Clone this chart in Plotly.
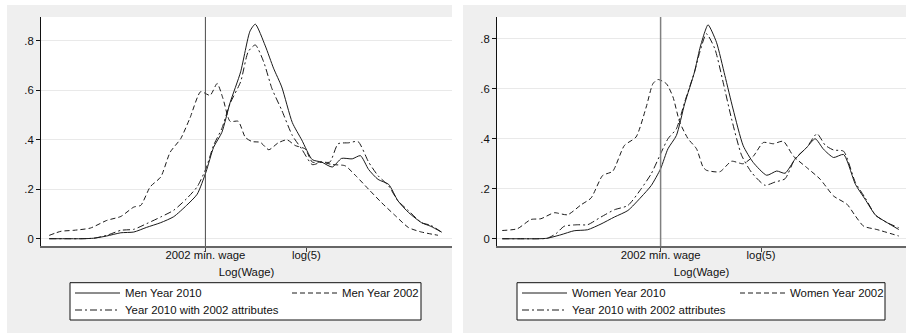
import math
import plotly.graph_objects as go

# ---------------- data ----------------
min_wage_2002 = 0.75          # log of 2002 minimum wage (axis position)
log5 = math.log(5)
xtick_vals = [min_wage_2002, log5]
xtick_text = ["2002 min. wage", "log(5)"]
ytick_vals = [0, 0.2, 0.4, 0.6, 0.8]
ytick_text = ["0", ".2", ".4", ".6", ".8"]

# Men panel
men2010_x = [-0.58, -0.45, -0.3, -0.2, -0.09, 0.03, 0.14, 0.25, 0.37, 0.48, 0.59, 0.68, 0.755, 0.82, 0.89,
             0.96, 1.05, 1.13, 1.175, 1.26, 1.33, 1.40, 1.49, 1.57, 1.66, 1.74, 1.83, 1.91, 2.0, 2.07, 2.14,
             2.22, 2.31, 2.39, 2.48, 2.59, 2.67, 2.76]
men2010_y = [0, 0, 0, 0.002, 0.011, 0.024, 0.027, 0.046, 0.065, 0.089, 0.135, 0.18, 0.27, 0.37, 0.43,
             0.55, 0.675, 0.84, 0.868, 0.78, 0.69, 0.614, 0.47, 0.40, 0.32, 0.31, 0.29, 0.325, 0.323, 0.336, 0.28,
             0.24, 0.22, 0.153, 0.106, 0.065, 0.05, 0.027]

men2002_x = [-0.58, -0.48, -0.37, -0.23, -0.09, 0.03, 0.14, 0.20, 0.28, 0.37, 0.45, 0.54, 0.62, 0.71, 0.79,
             0.85, 0.90, 0.96, 1.03, 1.09, 1.147, 1.218, 1.29, 1.37, 1.445, 1.515, 1.60, 1.66, 1.74, 1.83,
             1.94, 2.03, 2.14, 2.25, 2.37, 2.48, 2.59, 2.73]
men2002_y = [0.0135, 0.03, 0.034, 0.043, 0.074, 0.09, 0.128, 0.135, 0.21, 0.25, 0.35, 0.405, 0.49, 0.595, 0.58,
             0.628, 0.567, 0.475, 0.475, 0.41, 0.393, 0.39, 0.36, 0.388, 0.40, 0.377, 0.363, 0.31, 0.31, 0.30,
             0.295, 0.255, 0.20, 0.146, 0.092, 0.045, 0.027, 0.014]

menattr_x = [-0.58, -0.45, -0.3, -0.2, -0.09, 0.03, 0.14, 0.25, 0.37, 0.48, 0.59, 0.68, 0.755, 0.82, 0.89,
             0.96, 1.05, 1.115, 1.175, 1.246, 1.317, 1.40, 1.49, 1.57, 1.66, 1.74, 1.81, 1.88, 1.97, 2.05,
             2.14, 2.22, 2.31, 2.39, 2.48, 2.59, 2.67, 2.76]
menattr_y = [0, 0, 0, 0.002, 0.0135, 0.034, 0.038, 0.061, 0.088, 0.115, 0.162, 0.21, 0.284, 0.378, 0.446,
             0.547, 0.635, 0.757, 0.784, 0.716, 0.607, 0.52, 0.418, 0.363, 0.30, 0.31, 0.31, 0.384, 0.388, 0.393,
             0.31, 0.255, 0.214, 0.153, 0.113, 0.065, 0.054, 0.027]

# Women panel
wom2010_x = [-0.605, -0.45, -0.3, -0.22, -0.103, 0.01, 0.125, 0.24, 0.355, 0.47, 0.584, 0.67, 0.75, 0.813,
             0.885, 0.956, 1.04, 1.085, 1.128, 1.156, 1.228, 1.30, 1.37, 1.457, 1.543, 1.658, 1.744, 1.815,
             1.90, 2.0, 2.073, 2.144, 2.23, 2.316, 2.417, 2.50, 2.59, 2.69, 2.788]
wom2010_y = [0, 0, 0, 0.002, 0.016, 0.032, 0.036, 0.059, 0.087, 0.113, 0.167, 0.213, 0.28, 0.36,
             0.413, 0.54, 0.667, 0.76, 0.827, 0.856, 0.786, 0.653, 0.519, 0.372, 0.305, 0.254, 0.271, 0.262,
             0.318, 0.365, 0.40, 0.358, 0.325, 0.337, 0.218, 0.158, 0.094, 0.064, 0.037]

wom2002_x = [-0.605, -0.476, -0.36, -0.275, -0.16, -0.046, 0.07, 0.155, 0.254, 0.34, 0.44, 0.54, 0.627, 0.684,
             0.727, 0.80, 0.856, 0.913, 0.985, 1.057, 1.113, 1.142, 1.257, 1.357, 1.457, 1.543, 1.629, 1.715,
             1.80, 1.887, 2.0, 2.116, 2.23, 2.345, 2.417, 2.488, 2.60, 2.788]
wom2002_y = [0.033, 0.04, 0.077, 0.08, 0.104, 0.096, 0.136, 0.163, 0.253, 0.27, 0.373, 0.407, 0.527, 0.62,
             0.637, 0.62, 0.567, 0.467, 0.40, 0.36, 0.287, 0.274, 0.268, 0.31, 0.30, 0.33, 0.385, 0.38,
             0.39, 0.33, 0.285, 0.238, 0.171, 0.138, 0.091, 0.05, 0.037, 0.011]

womattr_x = [-0.605, -0.45, -0.3, -0.22, -0.146, -0.075, 0.04, 0.125, 0.24, 0.355, 0.47, 0.584, 0.67, 0.75,
             0.813, 0.885, 0.956, 1.04, 1.085, 1.142, 1.214, 1.285, 1.357, 1.443, 1.529, 1.643, 1.73, 1.815,
             1.90, 2.0, 2.088, 2.159, 2.23, 2.316, 2.417, 2.50, 2.59, 2.69, 2.788]
womattr_y = [0, 0, 0, 0.002, 0.02, 0.05, 0.056, 0.056, 0.087, 0.116, 0.133, 0.20, 0.26, 0.34,
             0.40, 0.44, 0.547, 0.667, 0.746, 0.82, 0.76, 0.626, 0.48, 0.334, 0.265, 0.214, 0.227, 0.24,
             0.32, 0.365, 0.42, 0.374, 0.355, 0.35, 0.225, 0.164, 0.094, 0.064, 0.044]

# ---------------- figure ----------------
W, H = 906, 335
FONT = "Liberation Sans, Arial, sans-serif"
LINE = "#1a1a1a"
SOLID = "solid"
DASH = "5px,3px"
DASHDOT = "7px,3px,2px,3px"


def px(x):
    return x / W


def py(y):
    return 1 - y / H


fig = go.Figure()


def add(x, y, name, dash, xa, ya, legend):
    fig.add_trace(go.Scatter(
        x=x, y=y, name=name, mode="lines", xaxis=xa, yaxis=ya, legend=legend, showlegend=True,
        line=dict(color=LINE, width=1, dash=dash, shape="spline", smoothing=0.6),
        hoverinfo="skip"))


add(men2010_x, men2010_y, "Men Year 2010", SOLID, "x", "y", "legend")
add(men2002_x, men2002_y, "Men Year 2002", DASH, "x", "y", "legend2")
add(menattr_x, menattr_y, "Year 2010 with 2002 attributes", DASHDOT, "x", "y", "legend3")
add(wom2010_x, wom2010_y, "Women Year 2010", SOLID, "x2", "y2", "legend4")
add(wom2002_x, wom2002_y, "Women Year 2002", DASH, "x2", "y2", "legend5")
add(womattr_x, womattr_y, "Year 2010 with 2002 attributes", DASHDOT, "x2", "y2", "legend6")

xr = [-0.65, 2.85]
tickfont = dict(family=FONT, size=11.3, color="#111")


def xaxis(domain, anchor):
    return dict(domain=domain, anchor=anchor, range=xr, tickvals=xtick_vals, ticktext=xtick_text,
                ticks="outside", ticklen=4, tickcolor="#444", tickwidth=1, showgrid=False, zeroline=False,
                showline=True, linecolor="#666", linewidth=2, tickfont=tickfont, ticklabelstandoff=-7,
                title=dict(text="Log(Wage)", font=dict(family=FONT, size=11.3, color="#111"), standoff=9))


def yaxis(domain, anchor, rng):
    return dict(domain=domain, anchor=anchor, range=rng, tickvals=ytick_vals, ticktext=ytick_text,
                ticks="outside", ticklen=4, tickcolor="#111", tickwidth=1, showgrid=True,
                gridcolor="#e9e9e9", gridwidth=1, zeroline=False, showline=True, linecolor="#111",
                linewidth=1, tickfont=tickfont)


ydom = [py(246), py(17)]
fig.update_layout(
    width=W, height=H, autosize=False, margin=dict(l=0, r=0, t=0, b=0),
    paper_bgcolor="white", plot_bgcolor="white", showlegend=True,
    font=dict(family=FONT, size=11.3, color="#111"),
    xaxis=xaxis([px(41), px(452)], "y"),
    yaxis=yaxis(ydom, "x", [-0.0295, 0.897]),
    xaxis2=xaxis([px(497), 1.0], "y2"),
    yaxis2=yaxis(ydom, "x2", [-0.029, 0.887]),
)

leg_common = dict(bgcolor="rgba(0,0,0,0)", borderwidth=0, itemwidth=45, xanchor="left", yanchor="middle",
                  font=dict(family=FONT, size=11.4, color="#111"), orientation="v", itemclick=False,
                  itemdoubleclick=False, visible=True)
row1, row2 = py(293), py(310)
fig.update_layout(
    legend=dict(x=px(70), y=row1, **leg_common),
    legend2=dict(x=px(287), y=row1, **leg_common),
    legend3=dict(x=px(70), y=row2, **leg_common),
    legend4=dict(x=px(517), y=row1, **leg_common),
    legend5=dict(x=px(735), y=row1, **leg_common),
    legend6=dict(x=px(517), y=row2, **leg_common),
)

shapes = []
# panel backgrounds and plot areas
for (gx0, gx1, ax0, ax1) in [(7, 452, 41, 452), (463, 906, 497, 906)]:
    shapes.append(dict(type="rect", xref="paper", yref="paper", x0=px(gx0), x1=px(gx1), y0=py(333), y1=py(5),
                       fillcolor="#efefef", line=dict(width=0), layer="below"))
    shapes.append(dict(type="rect", xref="paper", yref="paper", x0=px(ax0), x1=px(ax1), y0=py(246), y1=py(17),
                       fillcolor="white", line=dict(width=0), layer="below"))
# legend boxes
for (lx0, lx1) in [(70, 421), (517, 885)]:
    shapes.append(dict(type="rect", xref="paper", yref="paper", x0=px(lx0), x1=px(lx1), y0=py(320), y1=py(282.7),
                       fillcolor="white", line=dict(color="#111", width=1), layer="below"))
# minimum wage reference lines
for xa, ya, col, wd in [("x", "y domain", "#4a4a4a", 1), ("x2", "y2 domain", "#808080", 1.5)]:
    shapes.append(dict(type="line", xref=xa, yref=ya, x0=min_wage_2002, x1=min_wage_2002, y0=0, y1=1,
                       line=dict(color=col, width=wd), layer="above"))
fig.update_layout(shapes=shapes)

fig.write_html("out.html")
